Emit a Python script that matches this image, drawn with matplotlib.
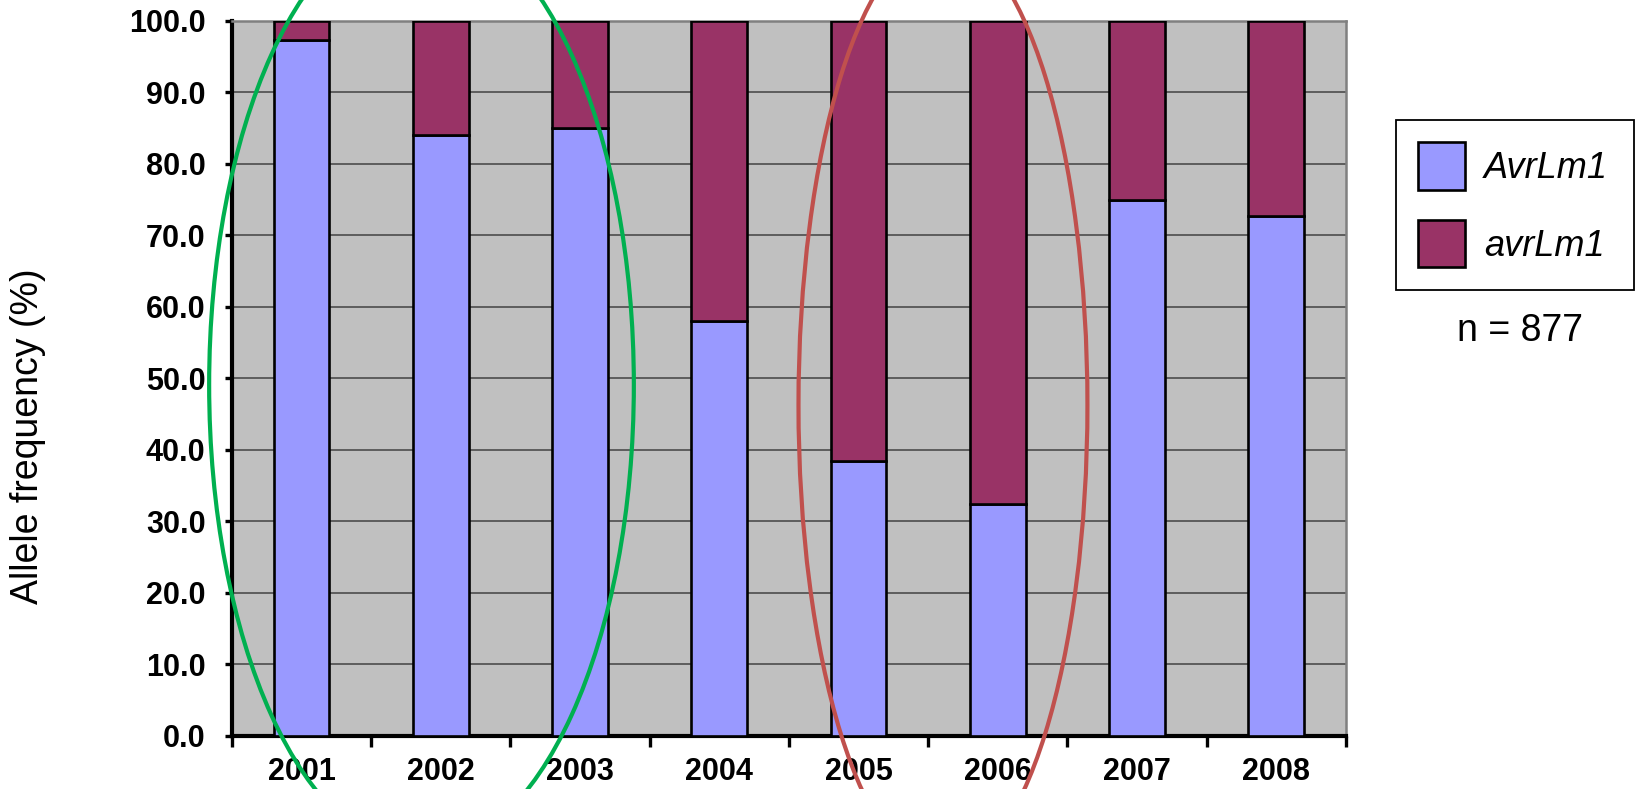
import numpy as np
import matplotlib
matplotlib.use("Agg")
import matplotlib.pyplot as plt
from matplotlib.patches import Ellipse

plt.rcParams["font.family"] = "Liberation Sans"

years = ["2001", "2002", "2003", "2004", "2005", "2006", "2007", "2008"]
avr_vir = [97.3, 84.0, 85.0, 58.0, 38.4, 32.4, 75.0, 72.7]   # AvrLm1
avr_total = [100.0] * 8
avr_avir = [t - v for t, v in zip(avr_total, avr_vir)]       # avrLm1
yticks = np.arange(0, 101, 10)

fig = plt.figure(figsize=(16.36, 7.89), dpi=100)
ax = fig.add_axes([0.1418, 0.0672, 0.6809, 0.9062])
ax.set_facecolor("#C0C0C0")

x = np.arange(len(years))
b1 = ax.bar(x, avr_vir, width=0.4, color="#9999FF", edgecolor="black", linewidth=1.9, zorder=3,
            label="AvrLm1")
b2 = ax.bar(x, avr_avir, width=0.4, bottom=avr_vir, color="#993366", edgecolor="black", linewidth=1.9,
            zorder=3, label="avrLm1")

ax.set_xlim(-0.5, 7.5)
ax.set_ylim(0, 100)
ax.set_yticks(yticks)
ax.set_yticklabels(['{:.1f}'.format(v) for v in yticks], fontsize=22, fontweight="bold")
ax.set_xticks(x)
ax.set_xticklabels(years, fontsize=22, fontweight="bold")
ax.set_xticks(np.arange(-0.5, 8.0, 1.0), minor=True)
ax.tick_params(axis="x", which="major", length=0, pad=15)
ax.tick_params(axis="x", which="minor", length=8, width=2.4, direction="out")
ax.tick_params(axis="y", length=5, width=2.4, direction="out", pad=14)
ax.yaxis.grid(True, color="#555555", linewidth=1.3, zorder=1)
ax.set_axisbelow(True)

for s in ["left", "bottom"]:
    ax.spines[s].set_linewidth(3)
    ax.spines[s].set_color("black")
for s in ["top", "right"]:
    ax.spines[s].set_linewidth(1.8)
    ax.spines[s].set_color("#808080")

# highlight ellipses
ax.add_patch(Ellipse((0.861, 49.1), 3.05, 130.6, facecolor="none", edgecolor="#00B050", linewidth=3.0,
                     clip_on=False, zorder=5))
ax.add_patch(Ellipse((4.606, 46.3), 2.075, 130.1, facecolor="none", edgecolor="#C0504D", linewidth=3.0,
                     clip_on=False, zorder=5))

leg = fig.legend(handles=[b1, b2], labels=["AvrLm1", "avrLm1"], loc="upper left",
                 bbox_to_anchor=(0.8533, 0.3764, 0.1455, 0.4715), mode="expand", borderaxespad=0,
                 prop={"size": 26, "style": "italic"}, handlelength=1.3, handleheight=1.63,
                 handletextpad=0.52, labelspacing=0.85, borderpad=0.62, fancybox=False, framealpha=1)
leg.get_frame().set_edgecolor("black")
leg.get_frame().set_linewidth(1.3)

fig.text(0.929, 0.5805, "n = 877", fontsize=27, ha="center", va="center")
fig.text(0.0171, 0.447, "Allele frequency (%)", fontsize=27, rotation=90, ha="center", va="center")

fig.savefig("out.png", dpi=100)
